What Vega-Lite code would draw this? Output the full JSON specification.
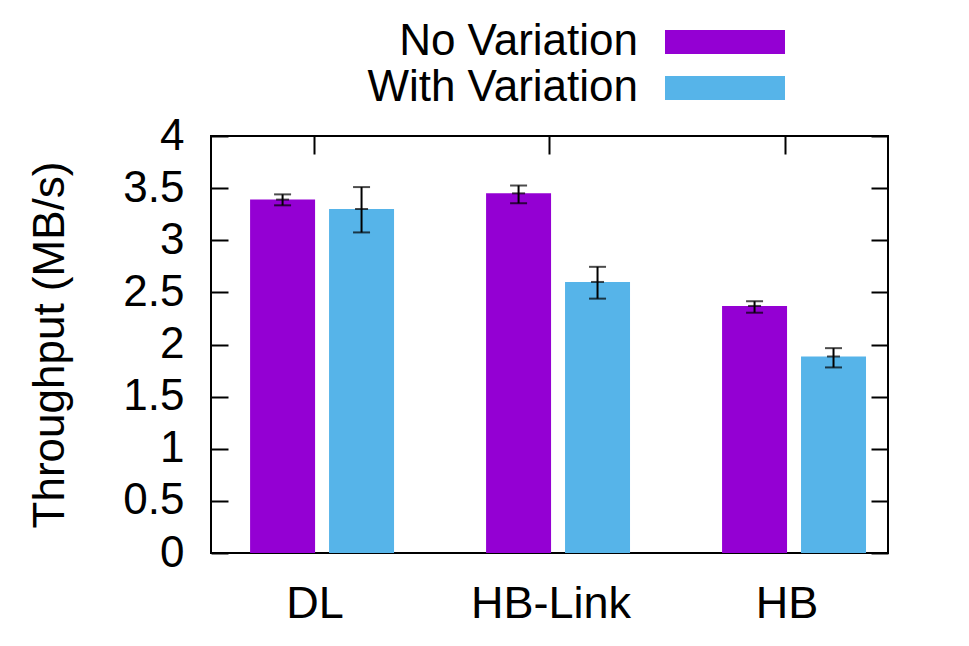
{
  "$schema": "https://vega.github.io/schema/vega-lite/v6.json",
  "width": 677,
  "height": 417,
  "autosize": {"type": "none"},
  "padding": {"left": 211, "top": 136, "right": 81, "bottom": 93},
  "background": "white",
  "config": {
    "font": "Liberation Sans",
    "view": {"stroke": "black", "strokeWidth": 2},
    "axis": {"labelFont": "Liberation Sans", "titleFont": "Liberation Sans", "labelColor": "black", "titleColor": "black", "tickColor": "black", "grid": false, "labelLimit": 400},
    "legend": {"labelFont": "Liberation Sans", "labelColor": "black"}
  },
  "data": {
    "values": [
      {"workload": "DL", "config": "No Variation", "value": 3.39, "lo": 3.335, "hi": 3.44},
      {"workload": "DL", "config": "With Variation", "value": 3.30, "lo": 3.075, "hi": 3.51},
      {"workload": "HB-Link", "config": "No Variation", "value": 3.45, "lo": 3.355, "hi": 3.525},
      {"workload": "HB-Link", "config": "With Variation", "value": 2.60, "lo": 2.44, "hi": 2.745},
      {"workload": "HB", "config": "No Variation", "value": 2.37, "lo": 2.305, "hi": 2.415},
      {"workload": "HB", "config": "With Variation", "value": 1.885, "lo": 1.78, "hi": 1.965}
    ]
  },
  "encoding": {
    "x": {
      "field": "workload", "type": "nominal", "sort": ["DL", "HB-Link", "HB"],
      "scale": {"type": "band", "paddingInner": 0.39, "paddingOuter": 0.1294, "align": 0.64}
    },
    "xOffset": {
      "field": "config", "type": "nominal", "sort": ["No Variation", "With Variation"],
      "scale": {"paddingInner": 0.177, "paddingOuter": 0}
    }
  },
  "resolve": {"axis": {"x": "independent", "y": "independent"}},
  "layer": [
    {
      "mark": {"type": "bar"},
      "encoding": {
        "x": {
          "field": "workload", "type": "nominal", "sort": ["DL", "HB-Link", "HB"],
          "axis": {"orient": "bottom", "ticks": false, "domain": false, "labelAngle": 0, "labelFontSize": 45, "labelPadding": 28, "labelOffset": -7, "title": null, "bandPosition": 0.444}
        },
        "y": {
          "field": "value", "type": "quantitative",
          "scale": {"domain": [0, 4], "nice": false, "zero": true},
          "axis": {"orient": "left", "values": [0, 0.5, 1, 1.5, 2, 2.5, 3, 3.5, 4], "format": "~g", "ticks": false, "domain": false, "labelFontSize": 44, "labelPadding": 27, "title": "Throughput (MB/s)", "titleFontSize": 44, "titleFontWeight": "normal", "titlePadding": 50}
        },
        "color": {
          "field": "config", "type": "nominal",
          "scale": {"domain": ["No Variation", "With Variation"], "range": ["#9400d3", "#56b4e9"]},
          "legend": {
            "orient": "none", "legendX": 492, "legendY": -116, "title": null, "padding": 0,
            "symbolType": "M-5,-1L5,-1L5,1L-5,1Z", "symbolSize": 576, "symbolStrokeWidth": 0,
            "labelFontSize": 44, "labelLimit": 400, "rowPadding": 2,
            "encode": {"labels": {"update": {"x": {"value": -65}, "align": {"value": "right"}}}}
          }
        }
      }
    },
    {
      "mark": {"type": "rule", "color": "black", "strokeWidth": 2},
      "encoding": {
        "x": {
          "field": "workload", "type": "nominal", "sort": ["DL", "HB-Link", "HB"],
          "axis": {"orient": "top", "labels": false, "domain": false, "tickSize": -18, "tickWidth": 2, "title": null, "bandPosition": 0.444}
        },
        "y": {
          "field": "lo", "type": "quantitative",
          "axis": {"orient": "right", "values": [0, 0.5, 1, 1.5, 2, 2.5, 3, 3.5, 4], "labels": false, "domain": false, "tickSize": -17, "tickWidth": 2, "title": null}
        },
        "y2": {"field": "hi"}
      }
    },
    {
      "mark": {"type": "tick", "color": "black", "thickness": 2, "size": 17},
      "encoding": {
        "x": {"field": "workload", "type": "nominal", "sort": ["DL", "HB-Link", "HB"], "axis": null},
        "y": {
          "field": "lo", "type": "quantitative",
          "axis": {"orient": "left", "values": [0, 0.5, 1, 1.5, 2, 2.5, 3, 3.5, 4], "labels": false, "domain": false, "tickSize": -17, "tickWidth": 2, "title": null}
        }
      }
    },
    {
      "mark": {"type": "tick", "color": "black", "thickness": 2, "size": 17},
      "encoding": {
        "x": {"field": "workload", "type": "nominal", "sort": ["DL", "HB-Link", "HB"], "axis": null},
        "y": {"field": "hi", "type": "quantitative", "axis": null}
      }
    },
    {
      "mark": {"type": "tick", "color": "black", "thickness": 2, "size": 13},
      "encoding": {
        "x": {"field": "workload", "type": "nominal", "sort": ["DL", "HB-Link", "HB"], "axis": null},
        "y": {"field": "value", "type": "quantitative", "axis": null}
      }
    }
  ]
}
